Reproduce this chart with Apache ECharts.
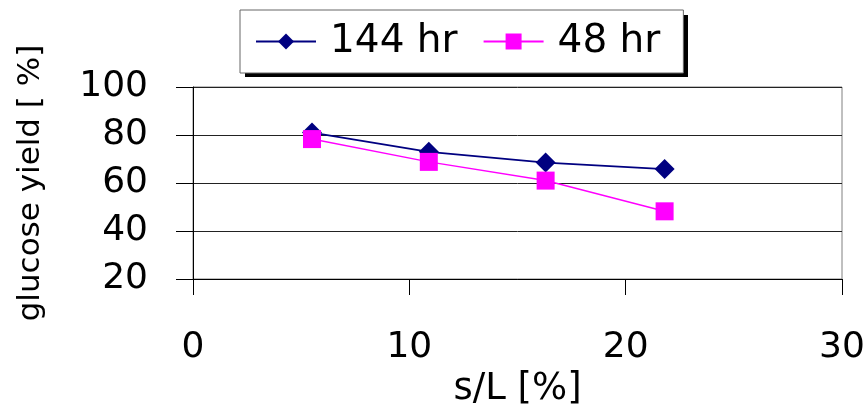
<!DOCTYPE html>
<html>
<head>
<meta charset="utf-8">
<script src="https://cdn.jsdelivr.net/npm/echarts@6/dist/echarts.min.js"></script>
<style>
  html, body { margin: 0; padding: 0; background: #fff; }
  #chart { width: 868px; height: 412px; }
</style>
</head>
<body>
<div id="chart"></div>
<script>
// Solids loading (s/L, %) and glucose yield (%) after two hydrolysis times
const solidsLoading = [5.5, 10.9, 16.3, 21.8];
const yield144hr = [81.0, 73.0, 68.5, 65.8];
const yield48hr = [78.3, 68.8, 61.0, 48.2];
const seriesNames = ['144 hr', '48 hr'];
const xTicks = [0, 10, 20, 30];
const yTicks = [20, 40, 60, 80, 100];

const pairs = (xs, ys) => xs.map((x, i) => [x, ys[i]]);

const chart = echarts.init(document.getElementById('chart'), null, { renderer: 'canvas' });

chart.setOption({
  backgroundColor: '#fff',
  animation: false,
  grid: {
    left: 193, right: 26, top: 87, bottom: 133,
    show: true, borderColor: '#808080', borderWidth: 1, backgroundColor: 'transparent'
  },
  // solid drop shadow behind the legend box
  graphic: [{
    type: 'rect', z: 1, silent: true,
    shape: { x: 245, y: 15, width: 443, height: 62 },
    style: { fill: '#000' }
  }],
  legend: {
    data: seriesNames,
    left: 240, top: 10,
    z: 5,
    padding: [12, 23, 12, 15],
    itemWidth: 60, itemHeight: 20,
    itemGap: 25,
    borderColor: '#666', borderWidth: 1,
    backgroundColor: '#fff',
    textStyle: {
      fontFamily: 'DejaVu Sans', fontSize: 39, color: '#000',
      padding: [0, 0, 0, 9]
    }
  },
  xAxis: {
    type: 'value',
    min: xTicks[0], max: xTicks[xTicks.length - 1], interval: 10,
    name: 's/L [%]',
    nameLocation: 'middle', nameGap: 92,
    nameTextStyle: { fontFamily: 'DejaVu Sans', fontSize: 37, color: '#000' },
    axisLine: { show: true, lineStyle: { color: '#000', width: 1 } },
    axisTick: { show: true, length: 16, lineStyle: { color: '#000' } },
    axisLabel: { margin: 51, fontFamily: 'DejaVu Sans', fontSize: 36, color: '#000' },
    splitLine: { show: false }
  },
  yAxis: {
    type: 'value',
    min: yTicks[0], max: yTicks[yTicks.length - 1], interval: 20,
    name: 'glucose yield [ %]',
    nameLocation: 'middle', nameGap: 147,
    nameTextStyle: { fontFamily: 'DejaVu Sans', fontSize: 31, color: '#000' },
    axisLine: { show: true, lineStyle: { color: '#000', width: 1 } },
    axisTick: { show: true, inside: false, length: 17, lineStyle: { color: '#000' } },
    axisLabel: { margin: 45, fontFamily: 'DejaVu Sans', fontSize: 36, color: '#000' },
    splitLine: { show: true, lineStyle: { color: '#222', width: 1 } }
  },
  series: [
    {
      name: seriesNames[0],
      type: 'line',
      data: pairs(solidsLoading, yield144hr),
      symbol: 'diamond', symbolSize: 20,
      lineStyle: { color: '#000080', width: 1.8 },
      itemStyle: { color: '#000080' },
      z: 2
    },
    {
      name: seriesNames[1],
      type: 'line',
      data: pairs(solidsLoading, yield48hr),
      symbol: 'rect', symbolSize: 18,
      lineStyle: { color: '#ff00ff', width: 1.5 },
      itemStyle: { color: '#ff00ff' },
      z: 3
    }
  ]
});
</script>
</body>
</html>
